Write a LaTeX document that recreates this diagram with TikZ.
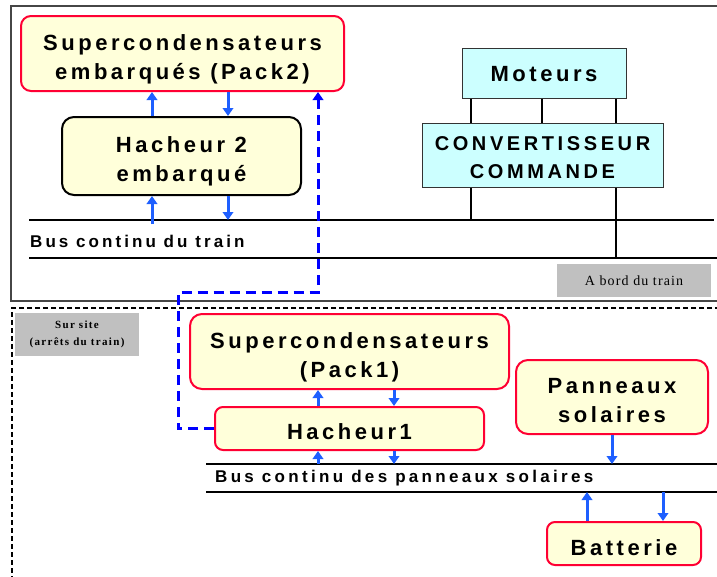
\documentclass[tikz,border=0pt]{standalone}
\usepackage{fontspec}
\setmainfont{Liberation Sans}
\newfontfamily\serifgray{Liberation Serif}
\usetikzlibrary{arrows.meta}
\definecolor{yfill}{RGB}{255,255,218}
\definecolor{rborder}{RGB}{255,0,51}
\definecolor{cfill}{RGB}{204,255,255}
\definecolor{ablue}{RGB}{30,95,255}
\definecolor{dblue}{RGB}{0,0,255}
\definecolor{gbox}{RGB}{192,192,192}
\definecolor{framegray}{RGB}{70,70,70}
\newcommand{\bigtxt}{\bfseries\addfontfeature{LetterSpace=16}\fontsize{22}{29}\selectfont}
\newcommand{\convtxt}{\bfseries\addfontfeature{LetterSpace=18}\fontsize{20}{28}\selectfont}
\newcommand{\bustxt}{\bfseries\addfontfeature{LetterSpace=18}\fontsize{17}{20}\selectfont}
\newcommand{\bustxtb}{\bfseries\addfontfeature{LetterSpace=19.5}\fontsize{17}{20}\selectfont}
\tikzset{
  ybox/.style={draw=rborder, fill=yfill, line width=2pt, rounded corners=10pt, inner sep=0pt},
  kbox/.style={draw=black, fill=yfill, line width=2pt, rounded corners=12pt, inner sep=0pt},
  cbox/.style={draw=black!80, fill=cfill, line width=1pt, inner sep=0pt},
  txt/.style={inner sep=0pt, align=center, font=\bigtxt},
  gboxs/.style={fill=gbox, inner sep=0pt, align=center},
  barrow/.style={draw=ablue, line width=3pt, -{Triangle[length=8pt,width=10.5pt]}},
  bdash/.style={draw=dblue, line width=3pt, dash pattern=on 10pt off 6pt, -{Triangle[length=8pt,width=10.5pt]}},
  busline/.style={draw=black, line width=2pt},
  wire/.style={draw=black, line width=2.5pt},
}
\begin{document}
\begin{tikzpicture}[x=1pt,y=-1pt]
\useasboundingbox (0,0) rectangle (717,576);
% frames
\draw[framegray, line width=1.5pt] (720,6) -| (11,301) -- (720,301);
\draw[black, line width=2pt, dash pattern=on 5pt off 3pt] (720,308) -| (12,580);
% bus lines
\coordinate (busT) at (29,220);
\coordinate (busT2) at (29,258);
\coordinate (busP) at (206,464);
\coordinate (busP2) at (206,492);
\draw[busline] (busT) -- (714,220);
\draw[busline] (busT2) -- (720,258);
\draw[busline] (busP) -- (720,464);
\draw[busline] (busP2) -- (720,492);
\node[anchor=west, inner sep=0pt, font=\bustxt] (lbT) at (30,241) {Bus continu du train};
\node[anchor=west, inner sep=0pt, font=\bustxtb] (lbP) at (215,478) {Bus continu des panneaux solaires};
% boxes
\node[ybox, minimum width=323pt, minimum height=75pt] (pack2) at (182.5,53.5) {};
\node[txt] (pack2t) at ([yshift=-6pt]pack2.center) {Supercondensateurs\\embarqués (Pack2)};
\node[kbox, minimum width=239pt, minimum height=78pt] (hach2) at (181.5,156) {};
\node[txt] (hach2t) at ([yshift=-5pt]hach2.center) {Hacheur 2\\embarqué};
\node[cbox, minimum width=164pt, minimum height=50pt] (mot) at (544,73) {};
\node[txt] (mott) at ([yshift=-1pt]mot.center) {Moteurs};
\node[cbox, minimum width=241pt, minimum height=64pt] (conv) at (542.5,155) {};
\node[txt, font=\convtxt] (convt) at ([yshift=-3pt]conv.center) {CONVERTISSEUR\\COMMANDE};
\node[gboxs, minimum width=154pt, minimum height=33pt, font=\serifgray\addfontfeature{LetterSpace=8}\fontsize{14}{17}\selectfont] (abord) at (634,280.5) {A bord du train};
\node[gboxs, minimum width=124pt, minimum height=43pt, font=\serifgray\bfseries\addfontfeature{LetterSpace=12}\fontsize{11}{17}\selectfont] (site) at (77,334.5) {Sur site\\(arrêts du train)};
\node[ybox, rounded corners=12pt, minimum width=319pt, minimum height=75pt] (pack1) at (349.5,351.5) {};
\node[txt] (pack1t) at ([yshift=-6pt]pack1.center) {Supercondensateurs\\(Pack1)};
\node[ybox, rounded corners=8pt, minimum width=269pt, minimum height=43pt] (hach1) at (349.5,428.5) {};
\node[txt] (hach1t) at ([yshift=-3pt]hach1.center) {Hacheur1};
\node[ybox, rounded corners=12pt, minimum width=192pt, minimum height=74pt] (pan) at (612,397) {};
\node[txt] (pant) at ([yshift=-4pt]pan.center) {Panneaux\\solaires};
\node[ybox, rounded corners=8pt, minimum width=154pt, minimum height=43pt] (bat) at (624,543.5) {};
\node[txt] (batt) at ([yshift=-4pt]bat.center) {Batterie};
% moteur wires
\draw[wire] (mot.south -| 471,0) -- (conv.north -| 471,0);
\draw[wire] (mot.south -| 542,0) -- (conv.north -| 542,0);
\draw[wire] (mot.south -| 616,0) -- (conv.north -| 616,0);
\draw[wire] (conv.south -| 471,0) -- (471,0 |- busT);
\draw[wire] (conv.south -| 616,0) -- (616,0 |- busT2);
% blue arrows
\draw[barrow] (hach2.north -| 152,0) -- (pack2.south -| 152,0);
\draw[barrow] (pack2.south -| 228,0) -- (hach2.north -| 228,0);
\draw[barrow] (152,224) -- (hach2.south -| 152,0);
\draw[barrow] (hach2.south -| 228,0) -- (228,0 |- busT);
\draw[barrow] (hach1.north -| 318,0) -- (pack1.south -| 318,0);
\draw[barrow] (pack1.south -| 394,0) -- (hach1.north -| 394,0);
\draw[barrow] (318,0 |- busP) -- (hach1.south -| 318,0);
\draw[barrow] (hach1.south -| 394,0) -- (394,0 |- busP);
\draw[barrow] (pan.south -| 612,0) -- (612,0 |- busP);
\draw[barrow] (bat.north -| 587,0) -- (587,0 |- busP2);
\draw[barrow] (663,0 |- busP2) -- (bat.north -| 663,0);
% dashed link
\draw[bdash] (hach1.west) -| (178,292) -| (pack2.south -| 318,0);
\end{tikzpicture}
\end{document}
